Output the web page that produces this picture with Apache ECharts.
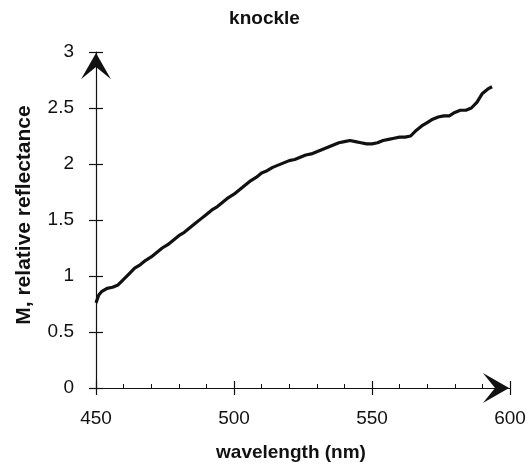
<!DOCTYPE html>
<html>
<head>
<meta charset="utf-8">
<script src="https://cdn.jsdelivr.net/npm/echarts@6/dist/echarts.min.js"></script>
<style>
html,body{margin:0;padding:0;background:#fff;}
#chart{width:529px;height:472px;}
</style>
</head>
<body>
<div id="chart"></div>
<script>
var titleText = 'knockle';
var xName = 'wavelength (nm)';
var yName = 'M, relative reflectance';
var wavelength = [450,451,452,454,456,458,460,462,464,466,468,470,472,474,476,478,480,482,484,486,488,490,492,494,496,498,500,502,504,506,508,510,512,514,516,518,520,522,524,526,528,530,532,534,536,538,540,542,544,546,548,550,552,554,556,558,560,562,564,566,568,570,572,574,576,578,580,582,584,586,588,590,592,593.5];
var reflectance = [0.76,0.83,0.86,0.89,0.90,0.92,0.97,1.02,1.07,1.10,1.14,1.17,1.21,1.25,1.28,1.32,1.36,1.39,1.43,1.47,1.51,1.55,1.59,1.62,1.66,1.70,1.73,1.77,1.81,1.85,1.88,1.92,1.94,1.97,1.99,2.01,2.03,2.04,2.06,2.08,2.09,2.11,2.13,2.15,2.17,2.19,2.20,2.21,2.20,2.19,2.18,2.18,2.19,2.21,2.22,2.23,2.24,2.24,2.25,2.30,2.34,2.37,2.40,2.42,2.43,2.43,2.46,2.48,2.48,2.50,2.55,2.63,2.67,2.69];
var xMin = 450, xMax = 600, xStep = 50;
var yMin = 0, yMax = 3, yStep = 0.5;

var FONT = "'Liberation Sans', Arial, Helvetica, sans-serif";
var arrowPath = 'path://M0,0 L16,28 L0,15 L-16,28 Z';
var seriesData = wavelength.map(function (w, i) { return [w, reflectance[i]]; });

var chart = echarts.init(document.getElementById('chart'), null, {renderer: 'canvas'});
chart.setOption({
  animation: false,
  backgroundColor: '#ffffff',
  title: {
    text: titleText, left: 'center', top: 4, padding: [5, 15, 5, 5],
    textStyle: {fontFamily: FONT, fontSize: 19, fontWeight: 'bold', color: '#111'}
  },
  grid: {left: 96, right: 19, top: 52, bottom: 84, containLabel: false},
  xAxis: [{
    type: 'value', min: xMin, max: xMax, interval: xStep,
    position: 'bottom',
    name: xName, nameLocation: 'middle', nameGap: 55,
    nameTextStyle: {fontFamily: FONT, fontSize: 19, fontWeight: 'bold', color: '#111', padding: [0, 24, 0, 0]},
    axisLine: {show: true, lineStyle: {color: '#111', width: 1.2},
      symbol: ['none', arrowPath], symbolSize: [30, 28], symbolOffset: [0, -14]},
    axisTick: {show: true, inside: true, length: 7, lineStyle: {color: '#111', width: 1.2}},
    minorTick: {show: true, splitNumber: 5, length: 4, lineStyle: {color: '#111', width: 1}},
    axisLabel: {margin: 21, fontFamily: FONT, fontSize: 19, color: '#111'},
    splitLine: {show: false}
  }, {
    type: 'value', min: xMin, max: xMax, interval: xStep,
    position: 'bottom', gridIndex: 0,
    axisLine: {show: false},
    axisTick: {show: true, inside: false, length: 7, lineStyle: {color: '#111', width: 1.2}},
    axisLabel: {show: false},
    splitLine: {show: false}
  }],
  yAxis: [{
    type: 'value', min: yMin, max: yMax, interval: yStep,
    position: 'left',
    name: yName, nameLocation: 'middle', nameGap: 61, nameRotate: 90,
    nameTextStyle: {fontFamily: FONT, fontSize: 21, fontWeight: 'bold', color: '#111', padding: [0, 0, 0, 10]},
    axisLine: {show: true, lineStyle: {color: '#111', width: 1.2},
      symbol: ['none', arrowPath], symbolSize: [30, 28], symbolOffset: [0, -14]},
    axisTick: {show: true, inside: false, length: 7, lineStyle: {color: '#111', width: 1.2}},
    axisLabel: {margin: 22, fontFamily: FONT, fontSize: 19, color: '#111'},
    splitLine: {show: false}
  }, {
    type: 'value', min: yMin, max: yMax, interval: yStep,
    position: 'left', gridIndex: 0,
    axisLine: {show: false},
    axisTick: {show: true, inside: true, length: 7, lineStyle: {color: '#111', width: 1.2}},
    axisLabel: {show: false},
    splitLine: {show: false}
  }],
  series: [{
    type: 'line', xAxisIndex: 0, yAxisIndex: 0,
    data: seriesData, showSymbol: false, symbol: 'none', smooth: false,
    lineStyle: {color: '#111', width: 3.2},
    z: 5
  }]
});
</script>
</body>
</html>
